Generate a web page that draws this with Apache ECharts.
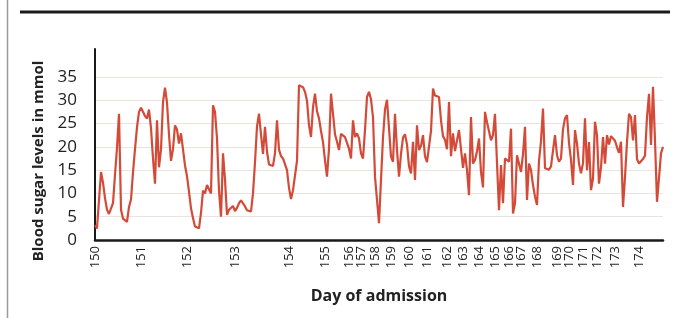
<!DOCTYPE html>
<html>
<head>
<meta charset="utf-8">
<style>
  html, body { margin: 0; padding: 0; background: #fff; }
  #chart { width: 679px; height: 318px; }
</style>
</head>
<body>
<div id="chart"></div>
<script src="https://cdn.jsdelivr.net/npm/echarts@6/dist/echarts.min.js"></script>
<script>
// days of admission and how many readings fall in each day
var dayLabels = [150, 151, 152, 153, 154, 155, 156, 157, 158, 159, 160, 161, 162,
                 163, 164, 165, 166, 167, 168, 169, 170, 171, 172, 173, 174];
var readingsPerDay = [23, 23, 24, 27, 18, 12, 6, 7, 8, 9, 9, 10, 8,
                      8, 8, 7, 6, 8, 10, 6, 7, 7, 9, 12, 13];

// blood sugar readings (mmol), in order
var glucose = [
  3.2, 2.5, 2.1, 14.6, 12.3, 9.0, 6.5, 5.6, 5.4, 7.9,
  14.0, 19.8, 27.1, 6.5, 4.6, 5.0, 3.9, 7.1, 8.7, 14.5,
  19.5, 24.2, 27.5, 28.4, 28.6, 26.6, 26.1, 28.0, 24.0, 17.5,
  12.1, 25.7, 15.6, 19.5, 29.6, 32.7, 29.5, 22.6, 17.0, 19.5,
  24.6, 23.7, 20.7, 22.9, 22.9, 16.0, 13.7, 10.4, 6.8, 4.7,
  2.9, 2.7, 2.5, 5.8, 10.6, 10.0, 11.8, 11.6, 10.0, 28.9,
  27.5, 21.8, 10.6, 5.0, 18.6, 12.9, 5.4, 6.5, 6.6, 7.3,
  6.2, 6.9, 7.9, 8.5, 8.3, 7.2, 6.4, 6.3, 6.1, 10.0,
  16.7, 24.4, 27.1, 22.6, 18.5, 24.3, 19.0, 16.2, 16.1, 15.9,
  18.6, 25.7, 19.4, 18.0, 17.5, 17.2, 15.0, 11.2, 8.8, 10.7,
  11.1, 17.0, 33.2, 33.2, 32.8, 31.8, 29.9, 24.6, 22.1, 28.5,
  31.4, 27.6, 26.1, 23.4, 21.0, 17.1, 13.6, 19.6, 31.4, 27.1,
  22.7, 21.1, 19.3, 22.8, 22.5, 22.1, 21.8, 19.6, 17.5, 25.7,
  22.1, 22.9, 21.8, 18.6, 17.5, 23.6, 30.7, 31.8, 30.2, 26.4,
  13.6, 13.3, 3.6, 12.9, 22.0, 28.0, 30.1, 24.0, 17.9, 16.8,
  27.1, 19.3, 13.6, 18.5, 22.0, 22.7, 20.5, 15.8, 14.3, 21.1,
  12.9, 24.6, 19.3, 20.2, 22.5, 18.0, 16.7, 16.4, 23.4, 32.5,
  31.0, 31.0, 30.7, 25.7, 22.3, 21.5, 19.5, 29.6, 18.0, 22.9,
  19.1, 18.9, 23.6, 19.5, 15.5, 18.6, 15.0, 9.6, 26.4, 16.4,
  17.2, 19.0, 21.8, 14.6, 11.3, 27.5, 25.3, 25.6, 21.4, 22.5,
  27.1, 16.5, 6.4, 16.1, 7.9, 17.5, 17.9, 16.8, 23.9, 5.7,
  7.9, 18.2, 17.9, 14.6, 18.4, 24.3, 8.6, 16.4, 15.0, 11.8,
  9.3, 7.5, 17.0, 21.2, 28.2, 15.4, 15.3, 15.1, 15.8, 19.2,
  22.5, 18.2, 16.8, 17.5, 23.8, 26.1, 26.8, 20.8, 17.2, 11.8,
  23.6, 20.7, 16.4, 14.3, 16.5, 26.1, 15.0, 21.0, 10.7, 13.2,
  25.4, 22.5, 12.1, 15.6, 22.1, 16.4, 22.5, 20.5, 22.3, 22.0,
  21.3, 19.9, 18.7, 21.1, 7.1, 13.5, 21.0, 27.1, 26.4, 21.4,
  26.8, 17.4, 16.4, 16.9, 17.4, 18.1, 26.4, 31.4, 20.4, 32.9,
  21.3, 8.2, 7.9, 18.6, 20.0
];

var yTicks = [0, 5, 10, 15, 20, 25, 30, 35];

// one category per reading: "day-n"
var categories = [];
dayLabels.forEach(function (d, k) {
  for (var n = 1; n <= readingsPerDay[k]; n++) categories.push(d + '-' + n);
});

var gridColor = '#e9e4df';
var myChart = echarts.init(document.getElementById('chart'));
var option = {
  animation: false,
  backgroundColor: '#fff',
  grid: { left: 95, right: 16, top: 49, bottom: 78 },
  graphic: [
    { type: 'line', shape: { x1: 20, y1: 12, x2: 670, y2: 12 }, style: { stroke: '#1a1a1a', lineWidth: 3 } },
    { type: 'line', shape: { x1: 7.5, y1: 0, x2: 7.5, y2: 318 }, style: { stroke: '#9a9a9a', lineWidth: 1.5 } }
  ],
  xAxis: {
    type: 'category',
    data: categories,
    boundaryGap: false,
    axisLine: { lineStyle: { color: '#1a1a1a', width: 2.5 } },
    axisTick: { show: false },
    splitLine: { show: false },
    axisLabel: {
      rotate: 90,
      margin: 6,
      fontSize: 13,
      color: '#222',
      fontFamily: 'Open Sans',
      interval: function (idx, v) { return /-1$/.test(v); },
      formatter: function (v) { return v.split('-')[0]; }
    },
    name: 'Day of admission',
    nameLocation: 'middle',
    nameGap: 48,
    nameTextStyle: { fontSize: 16, fontWeight: 'bold', color: '#222', fontFamily: 'Open Sans' }
  },
  yAxis: {
    type: 'value',
    min: 0,
    max: 41,
    interval: 5,
    axisLine: { show: true, lineStyle: { color: '#1a1a1a', width: 2 } },
    axisTick: { show: false },
    axisLabel: {
      margin: 18,
      fontSize: 17,
      color: '#222',
      fontFamily: 'Open Sans',
      formatter: function (v) { return yTicks.indexOf(v) >= 0 ? String(v) : ''; }
    },
    splitLine: {
      showMaxLine: false,
      lineStyle: { color: [gridColor, gridColor, gridColor, gridColor, gridColor, gridColor, gridColor, gridColor, 'rgba(0,0,0,0)'], width: 1 }
    },
    name: 'Blood sugar levels in mmol',
    nameLocation: 'middle',
    nameGap: 48,
    nameTextStyle: { fontSize: 15, fontWeight: 'bold', color: '#222', fontFamily: 'Open Sans', padding: [0, 33, 0, 0] }
  },
  series: [{
    type: 'line',
    data: glucose,
    showSymbol: false,
    silent: true,
    lineStyle: { color: '#d44a38', width: 2.2 }
  }]
};
myChart.setOption(option);
window.addEventListener('resize', function () {
  myChart.resize();
});
</script>
</body>
</html>
